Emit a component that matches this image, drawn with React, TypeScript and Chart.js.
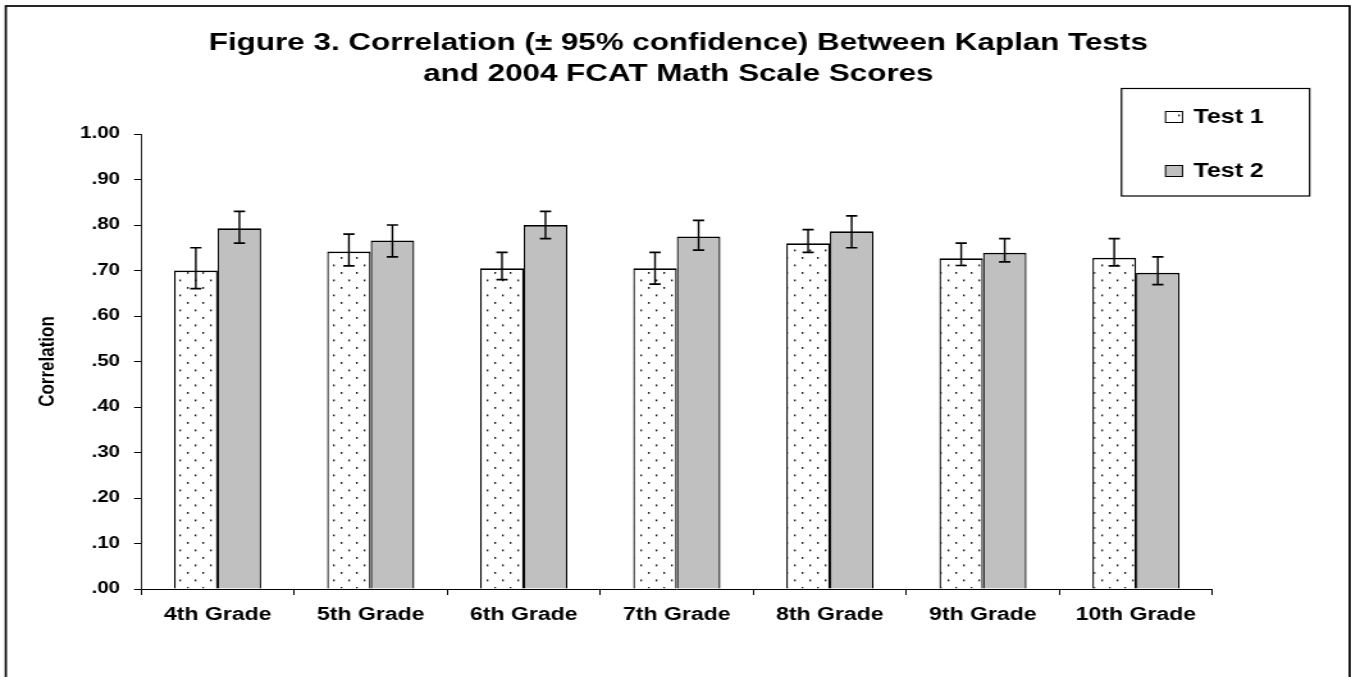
import React, { useEffect, useRef } from 'react';
import { Chart, registerables } from 'chart.js';

Chart.register(...registerables);

const categories = ['4th Grade', '5th Grade', '6th Grade', '7th Grade', '8th Grade', '9th Grade', '10th Grade'];
const test1Values = [0.70, 0.742, 0.705, 0.705, 0.76, 0.727, 0.728];
const test1Low = [0.66, 0.71, 0.68, 0.67, 0.74, 0.711, 0.71];
const test1High = [0.75, 0.78, 0.74, 0.74, 0.79, 0.76, 0.77];
const test2Values = [0.793, 0.766, 0.80, 0.775, 0.786, 0.739, 0.695];
const test2Low = [0.76, 0.73, 0.77, 0.745, 0.75, 0.719, 0.669];
const test2High = [0.83, 0.80, 0.83, 0.81, 0.82, 0.77, 0.73];
const yTickLabels = ['.00', '.10', '.20', '.30', '.40', '.50', '.60', '.70', '.80', '.90', '1.00'];
const titleLines = ['Figure 3. Correlation (\u00b1 95% confidence) Between Kaplan Tests', 'and 2004 FCAT Math Scale Scores'];
const legendLabels = ['Test 1', 'Test 2'];
const yAxisTitle = 'Correlation';

const SX = 1.28;
const PAGE_W = 1351;
const PAGE_H = 677;
const W = Math.round(PAGE_W / SX);
const H = PAGE_H;
const FONT = "'Liberation Sans', Arial, Helvetica, sans-serif";

function makeDotPattern(ctx: CanvasRenderingContext2D) {
  const c = document.createElement('canvas');
  c.width = 12;
  c.height = 15;
  const p = c.getContext('2d') as CanvasRenderingContext2D;
  p.fillStyle = '#ffffff';
  p.fillRect(0, 0, 12, 15);
  p.fillStyle = '#111111';
  p.fillRect(2, 2, 1.3, 1.8);
  p.fillRect(8, 9.5, 1.3, 1.8);
  return ctx.createPattern(c, 'repeat') as CanvasPattern;
}

export default function App() {
  const ref = useRef<HTMLCanvasElement | null>(null);

  useEffect(() => {
    const canvas = ref.current;
    if (!canvas) return;
    const ctx = canvas.getContext('2d') as CanvasRenderingContext2D;
    const dots = makeDotPattern(ctx);

    const lows = [test1Low, test2Low];
    const highs = [test1High, test2High];

    const decorPlugin = {
      id: 'decor',
      beforeDraw(chart: any) {
        const c = chart.ctx;
        c.save();
        c.fillStyle = '#ffffff';
        c.fillRect(0, 0, chart.width, chart.height);
        c.restore();
      },
      afterDatasetsDraw(chart: any) {
        const c = chart.ctx;
        const yScale = chart.scales.y;
        c.save();
        c.strokeStyle = '#000000';
        for (let d = 0; d < 2; d++) {
          const meta = chart.getDatasetMeta(d);
          meta.data.forEach((el: any, i: number) => {
            const x = el.x;
            const yl = yScale.getPixelForValue(lows[d][i]);
            const yh = yScale.getPixelForValue(highs[d][i]);
            c.lineWidth = 1.4;
            c.beginPath();
            c.moveTo(x, yl);
            c.lineTo(x, yh);
            c.stroke();
            c.lineWidth = 1.7;
            c.beginPath();
            c.moveTo(x - 4.4, yl);
            c.lineTo(x + 4.4, yl);
            c.moveTo(x - 4.4, yh);
            c.lineTo(x + 4.4, yh);
            c.stroke();
          });
        }
        c.restore();
      },
      afterDraw(chart: any) {
        const c = chart.ctx;
        c.save();
        // outer frame
        c.strokeStyle = '#000000';
        c.lineWidth = 1.7;
        const fx1 = 5.8 / SX;
        const fx2 = 1349 / SX;
        c.strokeRect(fx1, 6, fx2 - fx1, 700);
        // title
        c.fillStyle = '#000000';
        c.font = `bold 24.5px ${FONT}`;
        c.textAlign = 'center';
        c.textBaseline = 'alphabetic';
        const cx = 678 / SX;
        c.fillText(titleLines[0], cx, 50);
        c.fillText(titleLines[1], cx, 81);
        // legend box
        c.lineWidth = 1.2;
        c.strokeRect(1121 / SX, 88.5, (1309 - 1121) / SX, 107.5);
        const sx = 1165 / SX;
        const sw = 17 / SX;
        c.lineWidth = 1;
        c.fillStyle = dots;
        c.fillRect(sx, 111.5, sw, 11);
        c.strokeRect(sx, 111.5, sw, 11);
        c.fillStyle = '#c0c0c0';
        c.fillRect(sx, 165.5, sw, 11);
        c.strokeRect(sx, 165.5, sw, 11);
        c.fillStyle = '#000000';
        c.font = `bold 19.5px ${FONT}`;
        c.textAlign = 'left';
        c.fillText(legendLabels[0], 1193 / SX, 123);
        c.fillText(legendLabels[1], 1193 / SX, 177);
        c.restore();
      },
    };

    const chart = new Chart(canvas, {
      type: 'bar',
      data: {
        labels: categories,
        datasets: [
          {
            label: legendLabels[0],
            data: test1Values,
            backgroundColor: dots,
            borderColor: '#000000',
            borderWidth: { top: 1.8, left: 1.3, right: 1.3, bottom: 0 },
            borderSkipped: 'start',
            categoryPercentage: 0.569,
            barPercentage: 1,
          },
          {
            label: legendLabels[1],
            data: test2Values,
            backgroundColor: '#c0c0c0',
            borderColor: '#000000',
            borderWidth: { top: 1.8, left: 1.3, right: 1.3, bottom: 0 },
            borderSkipped: 'start',
            categoryPercentage: 0.569,
            barPercentage: 1,
          },
        ],
      },
      options: {
        animation: false,
        responsive: false,
        devicePixelRatio: 1,
        events: [],
        layout: {
          padding: { left: 0, top: 134, right: W - 1212 / SX, bottom: 38 },
        },
        plugins: {
          legend: { display: false },
          title: { display: false },
          tooltip: { enabled: false },
        },
        scales: {
          x: {
            type: 'category',
            grid: {
              display: true,
              offset: true,
              drawOnChartArea: false,
              drawTicks: true,
              tickLength: 6,
              color: '#000000',
              lineWidth: 1,
            },
            border: { display: true, color: '#000000', width: 1 },
            ticks: {
              color: '#000000',
              font: { family: FONT, size: 18, weight: 'bold' },
              padding: 9,
              maxRotation: 0,
              autoSkip: false,
            },
            afterFit: (scale: any) => {
              scale.height = 50;
            },
          },
          y: {
            min: 0,
            max: 1,
            grid: {
              display: true,
              drawOnChartArea: false,
              drawTicks: true,
              tickLength: 7 / SX,
              color: '#000000',
              lineWidth: 1,
            },
            border: { display: true, color: '#222222', width: 1 },
            ticks: {
              stepSize: 0.1,
              color: '#000000',
              font: { family: FONT, size: 16, weight: 'bold' },
              padding: 141 / SX - 120 / SX - 7 / SX,
              callback: (_v: any, i: number) => yTickLabels[i],
            },
            title: {
              display: true,
              text: yAxisTitle,
              color: '#000000',
              font: { family: FONT, size: 17, weight: 'bold' },
              padding: { top: 27, bottom: 0 },
            },
            afterFit: (scale: any) => {
              scale.width = 141 / SX;
            },
          },
        },
      },
      plugins: [decorPlugin],
    } as any);

    return () => {
      chart.destroy();
    };
  }, []);

  return (
    <canvas
      ref={ref}
      width={W}
      height={H}
      style={{ position: 'fixed', left: 0, top: 0, width: PAGE_W + 'px', height: PAGE_H + 'px', display: 'block' }}
    />
  );
}
